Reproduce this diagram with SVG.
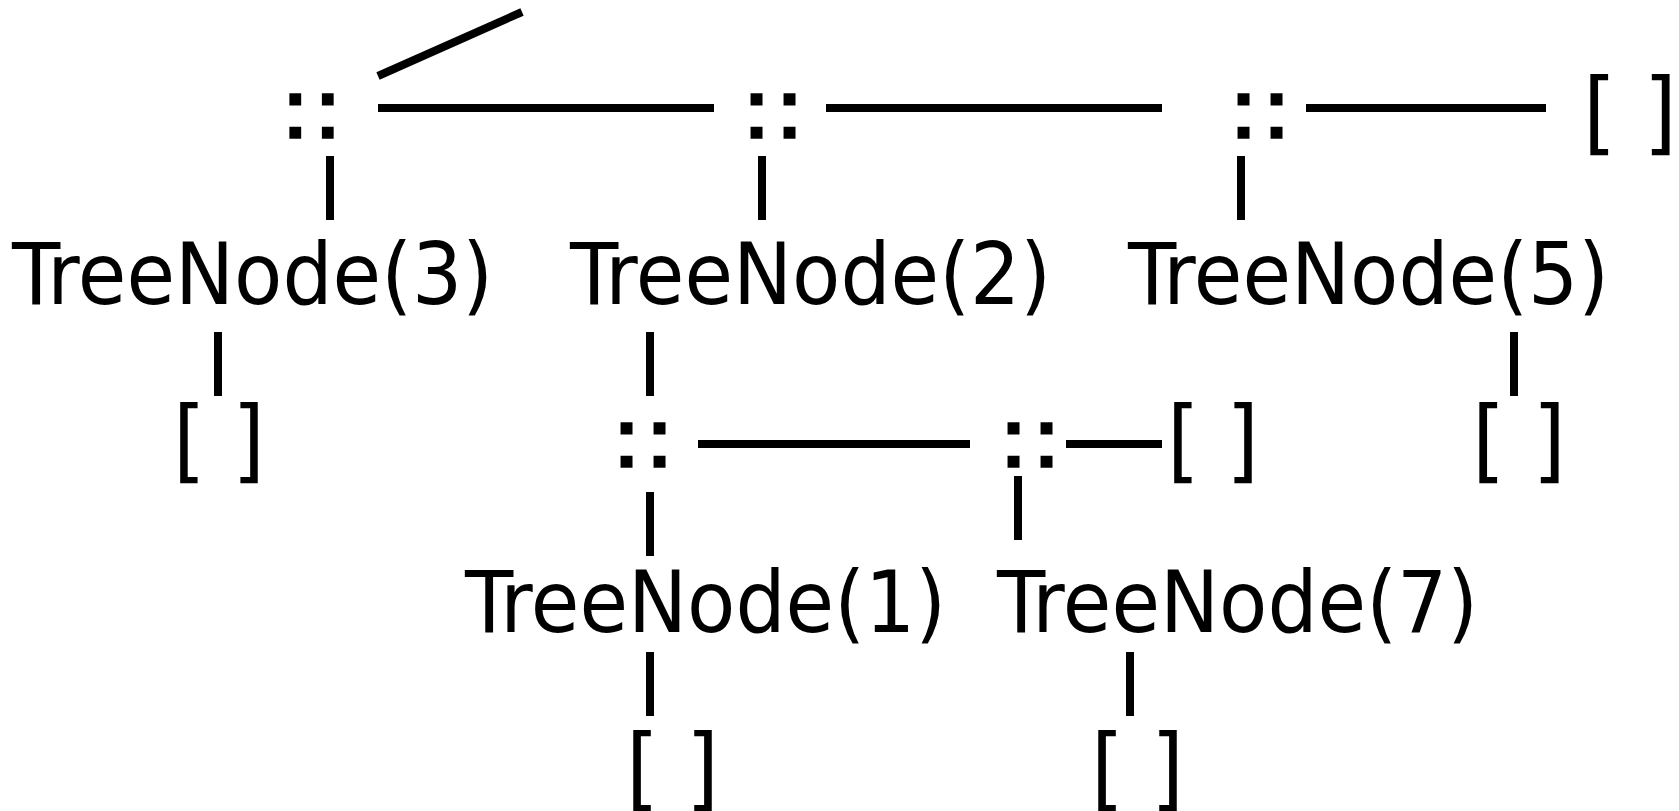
<svg xmlns="http://www.w3.org/2000/svg" width="1679" height="811" viewBox="0 0 1679 811">
<style>
text{font-family:"DejaVu Sans","Liberation Sans",sans-serif;font-stretch:condensed;fill:#000}
.tn{font-size:85px}
.cons{font-size:86px;stroke:#000;stroke-width:1.5}
.nil{font-size:91px}
.conn line{stroke:#000;stroke-width:8;stroke-linecap:butt}
</style>
<rect width="1679" height="811" fill="#fff"/>
<g class="conn" id="connectors">
<line x1="378" y1="76" x2="522" y2="12"/>
<line x1="378" y1="108" x2="714" y2="108"/>
<line x1="826" y1="108" x2="1162" y2="108"/>
<line x1="1306" y1="108" x2="1546" y2="108"/>
<line x1="330" y1="156" x2="330" y2="220"/>
<line x1="762" y1="156" x2="762" y2="220"/>
<line x1="1241" y1="156" x2="1241" y2="220"/>
<line x1="218" y1="332" x2="218" y2="396"/>
<line x1="650" y1="332" x2="650" y2="396"/>
<line x1="1514" y1="332" x2="1514" y2="396"/>
<line x1="698" y1="444" x2="970" y2="444"/>
<line x1="1066" y1="444" x2="1162" y2="444"/>
<line x1="650" y1="492" x2="650" y2="556"/>
<line x1="1018" y1="476" x2="1018" y2="540"/>
<line x1="650" y1="652" x2="650" y2="716"/>
<line x1="1130" y1="652" x2="1130" y2="716"/>
</g>
<g id="cons1"><text class="cons" x="279" y="138" textLength="65" lengthAdjust="spacingAndGlyphs">::</text></g>
<g id="cons2"><text class="cons" x="740" y="138" textLength="66" lengthAdjust="spacingAndGlyphs">::</text></g>
<g id="cons3"><text class="cons" x="1227" y="138" textLength="66" lengthAdjust="spacingAndGlyphs">::</text></g>
<g id="nil1"><text class="nil" x="1583" y="143" textLength="94" lengthAdjust="spacingAndGlyphs">[ ]</text></g>
<g id="tree3"><text class="tn" x="12" y="304" textLength="481" lengthAdjust="spacingAndGlyphs">TreeNode(3)</text></g>
<g id="tree2"><text class="tn" x="570" y="304" textLength="481" lengthAdjust="spacingAndGlyphs">TreeNode(2)</text></g>
<g id="tree5"><text class="tn" x="1128" y="304" textLength="481" lengthAdjust="spacingAndGlyphs">TreeNode(5)</text></g>
<g id="nil2"><text class="nil" x="173" y="471" textLength="92" lengthAdjust="spacingAndGlyphs">[ ]</text></g>
<g id="cons4"><text class="cons" x="610" y="467" textLength="66" lengthAdjust="spacingAndGlyphs">::</text></g>
<g id="cons5"><text class="cons" x="997" y="467" textLength="66" lengthAdjust="spacingAndGlyphs">::</text></g>
<g id="nil3"><text class="nil" x="1167" y="471" textLength="92" lengthAdjust="spacingAndGlyphs">[ ]</text></g>
<g id="nil4"><text class="nil" x="1472" y="471" textLength="94" lengthAdjust="spacingAndGlyphs">[ ]</text></g>
<g id="tree1"><text class="tn" x="465" y="632" textLength="481" lengthAdjust="spacingAndGlyphs">TreeNode(1)</text></g>
<g id="tree7"><text class="tn" x="997" y="632" textLength="481" lengthAdjust="spacingAndGlyphs">TreeNode(7)</text></g>
<g id="nil5"><text class="nil" x="626" y="799" textLength="93" lengthAdjust="spacingAndGlyphs">[ ]</text></g>
<g id="nil6"><text class="nil" x="1091" y="799" textLength="93" lengthAdjust="spacingAndGlyphs">[ ]</text></g>
</svg>
